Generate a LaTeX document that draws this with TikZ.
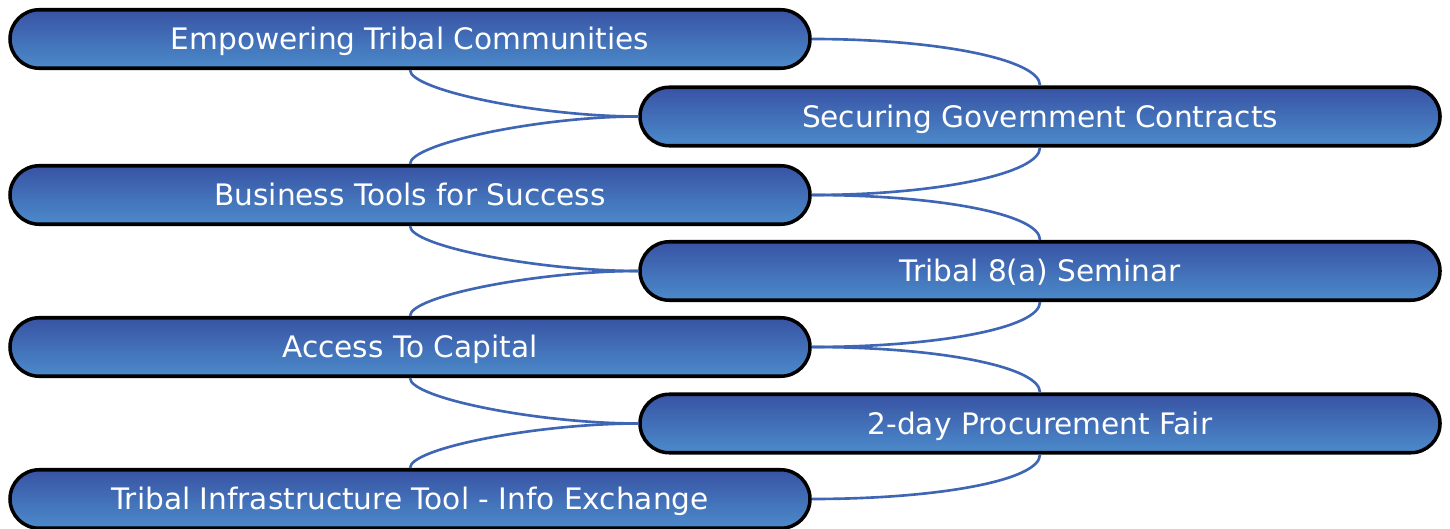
\documentclass[tikz,border=0pt]{standalone}
\usepackage{fontspec}
\setmainfont{DejaVu Sans}
\usetikzlibrary{shapes.misc}
\definecolor{pilltop}{HTML}{3853A4}
\definecolor{pillbottom}{HTML}{4C8BCB}
\definecolor{linkblue}{HTML}{3F66B4}

\begin{document}
\begin{tikzpicture}[
  pill/.style={rounded rectangle, draw=black, line width=1pt, top color=pilltop, bottom color=pillbottom,
    minimum width=8.0cm, minimum height=0.585cm, inner sep=0pt, text=white,
    text height=6.1pt, text depth=0pt, font=\fontsize{8.42}{10}\selectfont},
  link/.style={draw=linkblue, line width=0.75pt},
]
\useasboundingbox (0,0) rectangle (14.5,-5.29);

\node[pill] (emp) at (4.10,-0.39) {Empowering Tribal Communities};
\node[pill] (gov) at (10.40,-1.165) {Securing Government Contracts};
\node[pill] (tools) at (4.10,-1.95) {Business Tools for Success};
\node[pill] (seminar) at (10.40,-2.71) {Tribal 8(a) Seminar};
\node[pill] (capital) at (4.10,-3.47) {Access To Capital};
\node[pill] (fair) at (10.40,-4.235) {2-day Procurement Fair};
\node[pill] (infra) at (4.10,-4.99) {Tribal Infrastructure Tool - Info Exchange};

\draw[link] (emp.east) to[out=0, in=90, out distance=1.26cm, in distance=0.26cm] (gov.north);
\draw[link] (emp.south) to[out=-90, in=180, out distance=0.2cm, in distance=1cm] (gov.west);
\draw[link] (gov.west) to[out=180, in=90, out distance=1cm, in distance=0.2cm] (tools.north);
\draw[link] (gov.south) to[out=-90, in=0, out distance=0.26cm, in distance=1.26cm] (tools.east);

\draw[link] (tools.east) to[out=0, in=90, out distance=1.26cm, in distance=0.26cm] (seminar.north);
\draw[link] (tools.south) to[out=-90, in=180, out distance=0.2cm, in distance=1cm] (seminar.west);
\draw[link] (seminar.west) to[out=180, in=90, out distance=1cm, in distance=0.2cm] (capital.north);
\draw[link] (seminar.south) to[out=-90, in=0, out distance=0.26cm, in distance=1.26cm] (capital.east);

\draw[link] (capital.east) to[out=0, in=90, out distance=1.26cm, in distance=0.26cm] (fair.north);
\draw[link] (capital.south) to[out=-90, in=180, out distance=0.2cm, in distance=1cm] (fair.west);
\draw[link] (fair.west) to[out=180, in=90, out distance=1cm, in distance=0.2cm] (infra.north);
\draw[link] (fair.south) to[out=-90, in=0, out distance=0.26cm, in distance=1.26cm] (infra.east);

\end{tikzpicture}
\end{document}
